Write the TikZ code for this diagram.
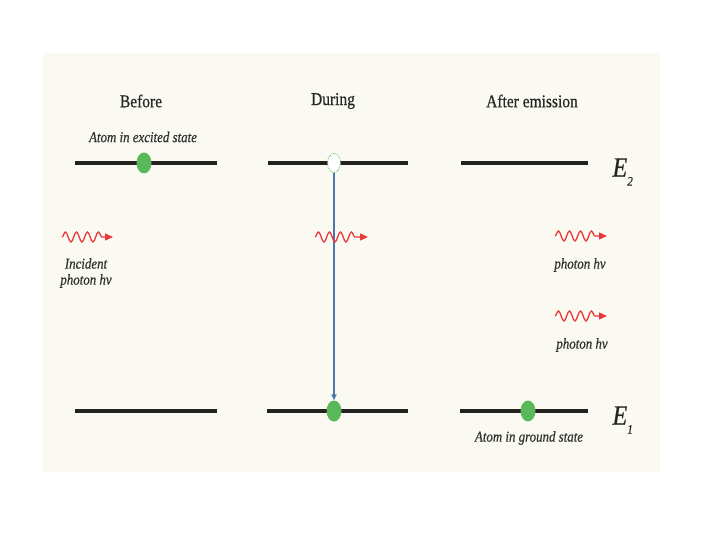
\documentclass[tikz,border=0pt]{standalone}
\usepackage{fontspec}
\setmainfont{Liberation Serif}
\newfontfamily\cond[FakeStretch=0.86, FakeBold=0.6]{Liberation Serif}
\usetikzlibrary{arrows.meta,decorations.pathmorphing,shapes.geometric}
\definecolor{panel}{HTML}{FBFAF2}
\definecolor{dotgreen}{HTML}{5BB85A}
\definecolor{arrowblue}{HTML}{4A78AE}
\definecolor{photonred}{HTML}{E83A3C}
\definecolor{levelgray}{HTML}{222222}
\tikzset{
  level/.style={line width=3.4pt, draw=levelgray},
  atom/.style={ellipse, fill=dotgreen, minimum width=15pt, minimum height=21pt, inner sep=0pt},
  hollow/.style={ellipse, draw=dotgreen, densely dotted, fill=white, minimum width=13pt, minimum height=19pt, inner sep=0pt, line width=0.8pt},
  title/.style={font=\cond\fontsize{18}{20}\selectfont, text=black!85},
  small/.style={font=\cond\itshape\fontsize{15}{17}\selectfont, text=black!80, align=center},
  elabel/.style={font=\cond\itshape\fontsize{28}{30}\selectfont, text=black!85},
  photon/.style={draw=photonred, line width=1.3pt, decorate,
     decoration={snake, amplitude=5pt, segment length=11pt, post length=9pt},
     -{Triangle[length=8pt,width=7pt]}},
  transition/.style={draw=arrowblue, line width=1.8pt, -{Triangle[length=6pt,width=5pt]}}
}
\begin{document}
\begin{tikzpicture}[x=1pt,y=-1pt]
\useasboundingbox (0,0) rectangle (720,540);
\fill[white] (0,0) rectangle (720,540);
\fill[panel] (42,53) rectangle (660,472);

% titles
\node[title] (tb) at (141,101) {Before};
\node[title] (td) at (333,101) {During};
\node[title] (ta) at (532,101) {After emission};

% levels E2
\draw[level] (75,163) -- (217,163);
\draw[level] (268,163) -- (408,163);
\draw[level] (461,163) -- (588,163);
% levels E1
\draw[level] (75,411) -- (217,411);
\draw[level] (267,411) -- (408,411);
\draw[level] (460,411) -- (588,411);

\node[elabel, anchor=west] (e2) at (609,172) {E\raisebox{-9pt}{\fontsize{13}{13}\selectfont 2}};
\node[elabel, anchor=west] (e1) at (609,420) {E\raisebox{-9pt}{\fontsize{13}{13}\selectfont 1}};

\node[small] (exc) at (143,137) {Atom in excited state};
\node[small] (gnd) at (529,438) {Atom in ground state};

% atoms
\node[atom] (a1) at (144,163) {};
\node[hollow] (a2) at (334,163) {};
\node[atom] (a3) at (334,411) {};
\node[atom] (a4) at (528,411) {};

% transition
\draw[transition] (a2.south) -- (a3.north);

% photons
\coordinate (p1s) at (62,237); \coordinate (p1e) at (113,237);
\draw[photon] (p1s) -- (p1e);
\node[small, align=center] (p1t) at (86,273) {Incident\\[-1pt]photon \textit{h}ν};

\coordinate (p2s) at (315,237); \coordinate (p2e) at (368,237);
\draw[photon] (p2s) -- (p2e);

\coordinate (p3s) at (555,236); \coordinate (p3e) at (607,236);
\draw[photon] (p3s) -- (p3e);
\node[small] (p3t) at (580,265) {photon \textit{h}ν};

\coordinate (p4s) at (555,316); \coordinate (p4e) at (607,316);
\draw[photon] (p4s) -- (p4e);
\node[small] (p4t) at (582,345) {photon \textit{h}ν};
\end{tikzpicture}
\end{document}
